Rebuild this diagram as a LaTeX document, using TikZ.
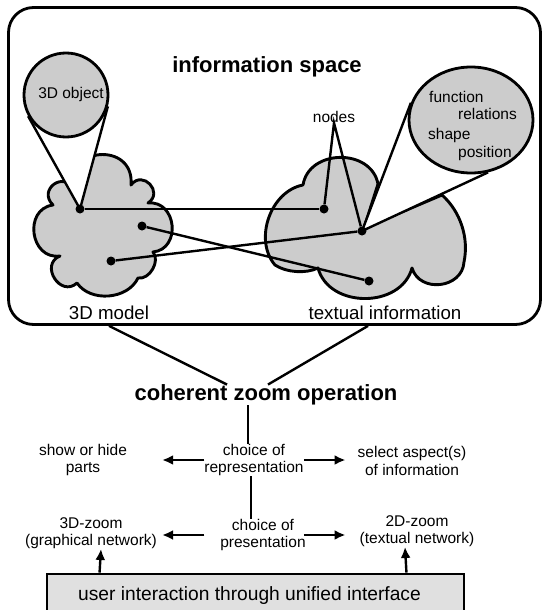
\documentclass[tikz,border=0pt]{standalone}
\usepackage{fontspec}
\setmainfont{Liberation Sans}
\usetikzlibrary{calc,shapes.geometric,arrows.meta,backgrounds}

\begin{document}
\begin{tikzpicture}[x=1pt,y=-1pt,
  txt/.style={font=\fontsize{15.5}{17.5}\selectfont, inner sep=0pt, align=center},
  big/.style={font=\fontsize{18.7}{22}\selectfont, inner sep=0pt},
  ttl/.style={font=\fontsize{22}{26}\selectfont\bfseries, inner sep=0pt},
  dot/.style={circle, fill=black, inner sep=0pt, minimum size=9pt},
  blob/.style={fill=black!20, draw=black, line width=2.9pt, line join=round},
  lens/.style={draw, fill=black!20, line width=2.8pt, inner sep=0pt},
  conn/.style={line width=2.4pt},
  arr/.style={line width=2.4pt, -{Latex[length=11pt,width=10pt]}}]

\useasboundingbox (0,0) rectangle (543,610);
\clip (0,0) rectangle (543,610);

% information space
\node[draw, line width=2.8pt, rounded corners=25pt, minimum width=532pt, minimum height=317pt] (space) at (274.5,166) {};
\node[ttl] (info) at (267,67) {information space};
\node[big] (model) at (109,313) {3D model};
\node[big] (textual) at (385,313) {textual information};

% zoom lenses
\node[lens, circle, minimum size=84pt] (obj) at (66,95) {};
\node[txt] (objtxt) at (71,94) {3D object};
\node[lens, ellipse, minimum width=124pt, minimum height=106pt] (attr) at (471,120) {};
\node[txt, anchor=west] (fn) at (429,97) {function};
\node[txt, anchor=west] (rel) at (458,114) {relations};
\node[txt, anchor=west] (shp) at (428,135) {shape};
\node[txt, anchor=west] (pos) at (458,153) {position};

% network nodes
\node[dot] (a) at (80,209) {};
\node[dot] (b) at (142,226) {};
\node[dot] (c) at (111,261) {};
\node[dot] (d) at (324,209) {};
\node[dot] (e) at (362,231) {};
\node[dot] (f) at (369,281) {};
\node[txt] (ndlbl) at (334,117) {nodes};

\begin{pgfonlayer}{background}
% 3D model cloud
\draw[blob] (53,205) to[bend left=100,looseness=2.2] (74,190)
  to[bend left=100,looseness=2] (131,185)
  to[bend left=100,looseness=2] (148,203)
  to[bend left=90,looseness=1.5] (153,252)
  to[bend left=70] (138,278)
  to[bend left=60] (77,283)
  to[bend left=100,looseness=1.8] (60,256)
  to[bend left=90,looseness=1.5] (53,205) -- cycle;
% textual cloud
\draw[blob] (303,185) to[bend left=80,looseness=1.25] (378,184)
  -- (364,228) -- (442,195)
  to[bend left=30,looseness=0.9] (464,262)
  to[bend left=80,looseness=1.3] (412,268)
  to[bend left=75,looseness=1.15] (318,268)
  to[bend left=30,looseness=0.8] (275,265)
  to[bend left=60] (303,185) -- cycle;
\fill[white] (tangent cs:node=obj,point={(a.center)},solution=1) -- (a.center)
  -- (tangent cs:node=obj,point={(a.center)},solution=2) -- cycle;
\fill[white] (attr.164) -- (e.center) -- (attr.288) -- cycle;
\end{pgfonlayer}

\draw[conn] (tangent cs:node=obj,point={(a.center)},solution=1) -- (a.center)
  -- (tangent cs:node=obj,point={(a.center)},solution=2);
\draw[conn] (attr.164) -- (e.center) -- (attr.288);
\draw[conn] (a) -- (d);
\draw[conn] (b) -- (f);
\draw[conn] (c) -- (e);
\draw[conn] (d) -- (ndlbl.south) -- (e);

% zoom operation
\node[ttl] (zoomop) at (266,395) {coherent zoom operation};
\draw[conn] (model |- space.south) -- ($(zoomop.north)+(-39,0)$);
\draw[conn] ($(textual.south |- space.south)+(-17,0)$) -- ($(zoomop.north)+(2,0)$);

\node[txt] (rep) at (254,460) {choice of\\representation};
\node[txt] (show) at (83,460) {show or hide\\parts};
\node[txt] (sel) at (412,461) {select aspect(s)\\of information};
\node[txt] (pres) at (263,535) {choice of\\presentation};
\node[txt] (gz) at (91,533) {3D-zoom\\(graphical network)};
\node[txt] (tz) at (417,531) {2D-zoom\\(textual network)};

\draw[conn] ($(rep.north)+(-6,0)$) -- ($(rep.north |- zoomop.south)+(-6,0)$);
\draw[conn] ($(rep.south)+(-3,0)$) -- ($(rep.south |- pres.north)+(-3,0)$);
\draw[arr, shorten >=35pt] (rep.west) -- (rep.west -| show.east);
\draw[arr, shorten >=12pt] (rep.east) -- (rep.east -| sel.west);
\draw[arr, shorten >=5pt] (pres.west -| rep.west) -- (pres.west -| gz.east);
\draw[arr, shorten >=14pt] (pres.east -| rep.east) -- (pres.east -| tz.west);

% interface
\node[draw, fill=black!12, line width=2.9pt, minimum width=417pt, minimum height=44pt,
  inner sep=0pt, font=\fontsize{19.2}{22}\selectfont] (ui) at (255.5,596) {\hspace*{-12pt}user interaction through unified interface};
\draw[arr] ($(ui.north west)+(54,0)$) -- ($(gz.south)+(10,0)$);
\draw[arr] ($(ui.north east)+(-59,0)$) -- ($(tz.south)+(-12,0)$);
\end{tikzpicture}
\end{document}
